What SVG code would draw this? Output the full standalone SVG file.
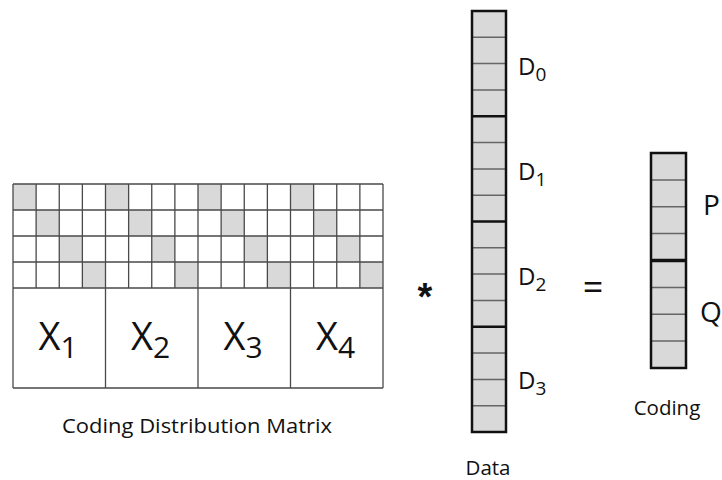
<svg xmlns="http://www.w3.org/2000/svg" width="722" height="480" viewBox="0 0 722 480">
<style>
text{font-family:"Open Sans","Liberation Sans",sans-serif;fill:#111}
.g{stroke:#4a4a4a;stroke-width:1.3;fill:none}
.sh{fill:#d9d9d9}
.cell{fill:#d9d9d9;stroke:none}
.thin{stroke:#666;stroke-width:1.5}
.thick{stroke:#111;stroke-width:2.5}
.border{fill:none;stroke:#111;stroke-width:2.5}
.big{font-size:38px}
.lab{font-size:20.5px}
.dl{font-size:24px}
</style>
<rect width="722" height="480" fill="#fff"/>
<g id="matrix">
<rect x="13" y="184" width="370" height="204" fill="#fff"/>
<g class="sh">
<rect x="13" y="184" width="23.125" height="26"/><rect x="105.5" y="184" width="23.125" height="26"/><rect x="198" y="184" width="23.125" height="26"/><rect x="290.5" y="184" width="23.125" height="26"/>
<rect x="36.125" y="210" width="23.125" height="26"/><rect x="128.625" y="210" width="23.125" height="26"/><rect x="221.125" y="210" width="23.125" height="26"/><rect x="313.625" y="210" width="23.125" height="26"/>
<rect x="59.25" y="236" width="23.125" height="26"/><rect x="151.75" y="236" width="23.125" height="26"/><rect x="244.25" y="236" width="23.125" height="26"/><rect x="336.75" y="236" width="23.125" height="26"/>
<rect x="82.375" y="262" width="23.125" height="26"/><rect x="174.875" y="262" width="23.125" height="26"/><rect x="267.375" y="262" width="23.125" height="26"/><rect x="359.875" y="262" width="23.125" height="26"/>
</g>
<path class="g" d="M13 184H383M13 210H383M13 236H383M13 262H383M13 288H383M13 388H383
M13 184V388M36.125 184V288M59.25 184V288M82.375 184V288M105.5 184V388M128.625 184V288M151.75 184V288M174.875 184V288M198 184V388M221.125 184V288M244.25 184V288M267.375 184V288M290.5 184V388M313.625 184V288M336.75 184V288M359.875 184V288M383 184V388"/>
<text class="big" x="58" y="350" text-anchor="middle">X<tspan font-size="30" dy="8">1</tspan></text>
<text class="big" x="150.5" y="350" text-anchor="middle">X<tspan font-size="30" dy="8">2</tspan></text>
<text class="big" x="243" y="350" text-anchor="middle">X<tspan font-size="30" dy="8">3</tspan></text>
<text class="big" x="335.5" y="350" text-anchor="middle">X<tspan font-size="30" dy="8">4</tspan></text>
<text class="lab" x="62" y="433" textLength="270" lengthAdjust="spacingAndGlyphs">Coding Distribution Matrix</text>
</g>
<g id="op-mul"><text x="425" y="310" font-size="38" text-anchor="middle" font-weight="bold" style="font-family:'Liberation Sans',sans-serif">*</text></g>
<g id="data">
<rect class="cell" x="472" y="11" width="34" height="421"/>
<path class="thin" d="M472 37.3H506M472 63.6H506M472 89.9H506M472 142.6H506M472 168.9H506M472 195.2H506M472 247.8H506M472 274.1H506M472 300.4H506M472 353H506M472 379.4H506M472 405.7H506"/>
<path class="thick" d="M472 116.3H506M472 221.5H506M472 326.7H506"/>
<rect class="border" x="472" y="11" width="34" height="421"/>
<text class="dl" x="518" y="75">D<tspan font-size="19" dy="6">0</tspan></text>
<text class="dl" x="518" y="180">D<tspan font-size="19" dy="6">1</tspan></text>
<text class="dl" x="518" y="285">D<tspan font-size="19" dy="6">2</tspan></text>
<text class="dl" x="518" y="389">D<tspan font-size="19" dy="6">3</tspan></text>
<text class="lab" x="488" y="475" text-anchor="middle">Data</text>
</g>
<g id="op-eq"><text x="593" y="300" font-size="36" text-anchor="middle">=</text></g>
<g id="coding">
<rect class="cell" x="651" y="153" width="35" height="215"/>
<path class="thin" d="M651 179.9H686M651 206.8H686M651 233.6H686M651 287.4H686M651 314.3H686M651 341.1H686"/>
<path d="M651 260.5H686" stroke="#111" stroke-width="3.5"/>
<rect class="border" x="651" y="153" width="35" height="215"/>
<text x="703" y="215" font-size="28">P</text>
<text x="700" y="322" font-size="28">Q</text>
<text class="lab" x="667" y="415" text-anchor="middle">Coding</text>
</g>
</svg>
